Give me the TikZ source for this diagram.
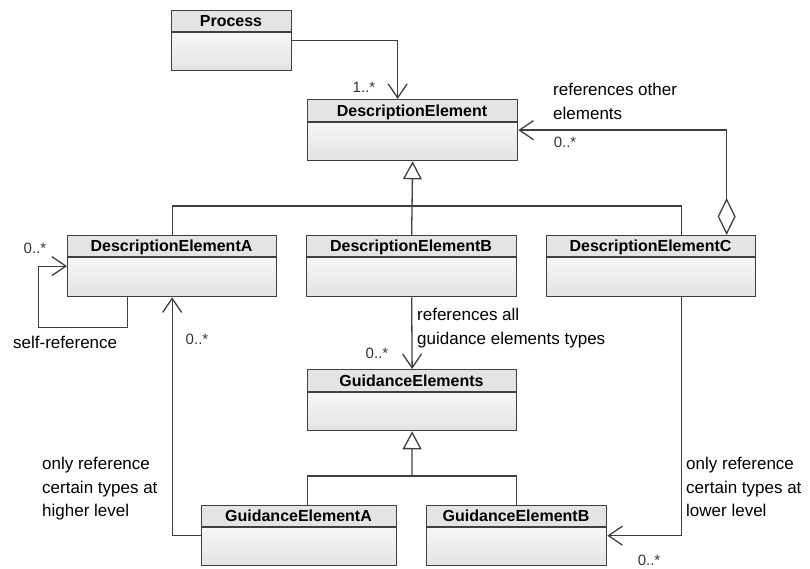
\documentclass[tikz,border=0pt]{standalone}
\usepackage{fontspec}
\setmainfont{Liberation Sans}
\usetikzlibrary{arrows.meta,calc}
\definecolor{bordercol}{HTML}{404040}
\definecolor{headcol}{HTML}{E4E4E4}
\definecolor{bodytop}{HTML}{F6F6F6}
\definecolor{bodybot}{HTML}{E4E4E4}
\definecolor{multcol}{HTML}{333333}
\tikzset{
  clsbox/.style={draw=bordercol, line width=1.3pt, inner sep=0pt, anchor=north west},
  clshead/.style={fill=headcol},
  clsbody/.style={top color=bodytop, bottom color=bodybot},
  clstitle/.style={font=\fontsize{16}{18}\selectfont\bfseries, text=black, anchor=base, inner sep=0pt},
  conn/.style={draw=bordercol, line width=1.3pt},
  assoc/.style={conn, -{Straight Barb[length=14pt,width=19pt,line width=1.3pt]}},
  gen/.style={conn, -{Triangle[open,length=18pt,width=19pt,fill=white,line width=1.3pt]}},
  aggr/.style={conn, {Diamond[open,length=37pt,width=18pt,fill=white,line width=1.3pt]}-{Straight Barb[length=14pt,width=19pt,line width=1.3pt]}},
  lbl/.style={font=\fontsize{17}{23.5}\selectfont, text=black, align=left, anchor=north west, inner sep=0pt},
  mult/.style={font=\fontsize{15}{17}\selectfont, text=multcol, anchor=base, inner sep=0pt},
}
% \umlcls{name}{x1}{y1}{x2}{y2}{header bottom}{title}
\newcommand{\umlcls}[7]{%
  \fill[clsbody] (#2,#6) rectangle (#4,#5);
  \fill[clshead] (#2,#3) rectangle (#4,#6);
  \draw[draw=bordercol, line width=1.3pt] (#2,#6) -- (#4,#6);
  \node[clsbox, minimum width={(#4-#2)*1pt}, minimum height={(#5-#3)*1pt}] (#1) at (#2,#3) {};
  \node[clstitle] (#1-title) at ({(#2+#4)/2},{#6-5.5}) {#7};
}
\begin{document}
\begin{tikzpicture}[x=1pt,y=-1pt]
\useasboundingbox (0,0) rectangle (810,569);

% classes
\umlcls{proc}{171}{10}{291}{70}{32}{Process}
\umlcls{de}{307}{99}{517}{160}{122}{DescriptionElement}
\umlcls{dea}{67}{235}{276}{296}{257}{DescriptionElementA}
\umlcls{deb}{306}{235}{516}{296}{257}{DescriptionElementB}
\umlcls{dec}{546}{235}{755}{296}{257}{DescriptionElementC}
\umlcls{ge}{307}{369}{516}{430}{392}{GuidanceElements}
\umlcls{gea}{201}{505}{396}{565}{527}{GuidanceElementA}
\umlcls{geb}{426}{505}{606}{565}{527}{GuidanceElementB}

% Process -> DescriptionElement
\draw[assoc] (proc.east) -| ([xshift=-15pt]de.north);
\node[mult] (m1) at (364,93) {1..*};

% generalization DescriptionElement
\coordinate (dj) at (412,206);
\draw[conn] (dea.north) |- (dj) -| ([xshift=30.5pt]dec.north);
\draw[gen] (deb.north) -- (de.south);

% aggregation DescriptionElementC -> DescriptionElement
\coordinate (agc) at ([xshift=75.5pt]dec.north);
\draw[aggr] (agc) |- (de.east);
\node[mult] (m2) at (565,148) {0..*};
\node[lbl] (l1) at (553,83) {references other\\elements};

% self reference
\draw[assoc] ([xshift=-44.5pt]dea.south) -- ++(0,30) -- ++(-89,0) |- (dea.west);
\node[mult] (m3) at (35,253) {0..*};
\node[lbl] (l2) at (13,336) {self-reference};

% GuidanceElementA -> DescriptionElementA
\draw[assoc] (gea.west) -| (dea.south);
\node[mult] (m4) at (197,344) {0..*};
\node[lbl] (l3) at (42,457) {only reference\\certain types at\\higher level};

% DescriptionElementB -> GuidanceElements
\draw[assoc] (deb.south) -- (ge.north);
\node[lbl] (l4) at (417,308) {references all\\guidance elements types};
\node[mult] (m5) at (377,358) {0..*};

% generalization GuidanceElements
\coordinate (gj) at (412,476);
\draw[conn] ([xshift=8.5pt]gea.north) |- (gj) -| (geb.north);
\draw[gen] (gj) -- (ge.south);

% DescriptionElementC -> GuidanceElementB
\draw[assoc] ([xshift=30.5pt]dec.south) |- (geb.east);
\node[mult] (m6) at (649,565) {0..*};
\node[lbl] (l5) at (686,457) {only reference\\certain types at\\lower level};
\end{tikzpicture}
\end{document}
